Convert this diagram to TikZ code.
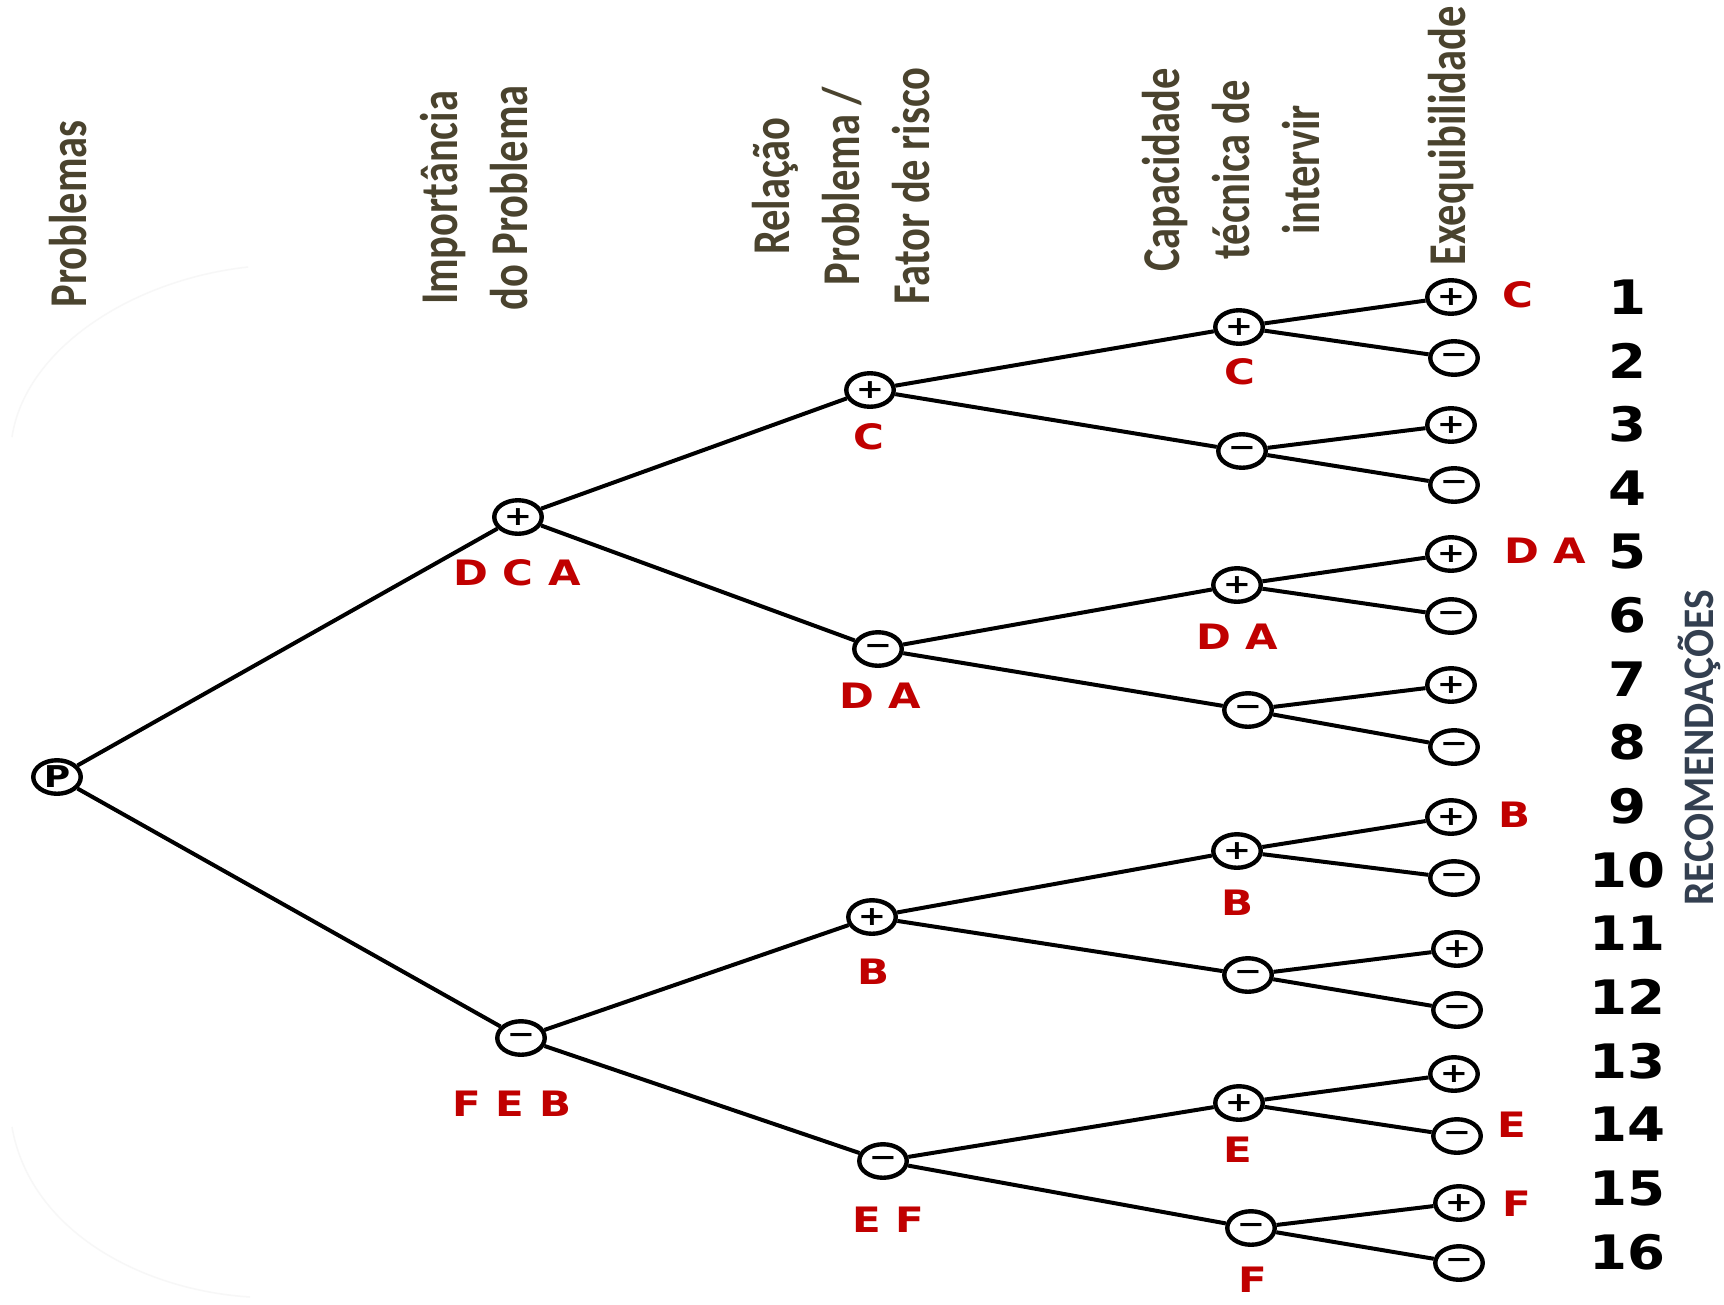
\documentclass[tikz,border=0pt]{standalone}
\usepackage{fontspec}
\setmainfont{Carlito}
\newfontfamily\djv{DejaVu Sans}
\usepackage{graphicx}
\usetikzlibrary{shapes.geometric}
\definecolor{hdrbrown}{RGB}{74,67,46}
\definecolor{lblred}{RGB}{192,0,0}
\definecolor{recblue}{RGB}{51,63,80}
\newcommand\pl{\scalebox{1.25}[1]{+}}
\newcommand\mn{\scalebox{1.25}[1]{\char"2212}}

\begin{document}
\begin{tikzpicture}[
    x=1pt, y=-1pt,
    nd/.style={ellipse, draw, line width=4.4pt, minimum width=47.5pt, minimum height=33.5pt, inner sep=0pt, font=\djv\bfseries\fontsize{27}{27}\selectfont},
    lnk/.style={line width=4pt},
    hdr/.style={rotate=90, yscale=1.25, align=center, text=hdrbrown, inner sep=0pt, font=\bfseries\fontsize{42.5}{56}\selectfont},
    lbl/.style={xscale=1.2, text=lblred, inner sep=0pt, font=\djv\bfseries\fontsize{35}{35}\selectfont},
    num/.style={xscale=1.15, inner sep=0pt, font=\djv\bfseries\fontsize{47.5}{47.5}\selectfont},
]
\fill[white] (0,0) rectangle (1724,1304);
\useasboundingbox (0,0) rectangle (1724,1304);

% faint background arc
\draw[black!3, line width=1.5pt] (248,267) .. controls (130,280) and (25,350) .. (12,437);
\draw[black!3, line width=1.5pt] (12,1127) .. controls (30,1230) and (140,1290) .. (250,1297);

% Column headers
\node[hdr] (hprob) at (68,214) {Problemas};
\node[hdr] (himp) at (474,198) {Importância\\do Problema};
\node[hdr] (hrel) at (841,186) {Relação\\Problema /\\Fator de risco};
\node[hdr] (hcap) at (1231,170) {Capacidade\\técnica de\\intervir};
\node[hdr] (hexe) at (1451,136) {Exequibilidade};
\node[rotate=90, yscale=1.05, text=recblue, inner sep=0pt, font=\bfseries\fontsize{41.5}{41.5}\selectfont] (hrec) at (1699,748) {RECOMENDAÇÕES};

% Tree nodes
\node[nd, font=\djv\bfseries\fontsize{30}{30}\selectfont] (p) at (57,777) {\scalebox{1.2}[1]{P}};
\node[nd] (i1) at (518,517) {\pl};
\node[nd] (i2) at (521,1038) {\mn};
\node[nd] (r1) at (870,390) {\pl};
\node[nd] (r2) at (878,649) {\mn};
\node[nd] (r3) at (872,917) {\pl};
\node[nd] (r4) at (883,1161) {\mn};
\node[nd] (c1) at (1239,327) {\pl};
\node[nd] (c2) at (1242,451) {\mn};
\node[nd] (c3) at (1237,585) {\pl};
\node[nd] (c4) at (1248,710) {\mn};
\node[nd] (c5) at (1237,851) {\pl};
\node[nd] (c6) at (1248,975) {\mn};
\node[nd] (c7) at (1239,1103) {\pl};
\node[nd] (c8) at (1251,1228) {\mn};

% Leaves and recommendation numbers
\foreach \x/\y [count=\k] in {1451/297, 1454/358, 1451/425, 1454/485, 1451/554, 1451/616, 1451/685, 1454/747, 1451/817, 1454/878, 1457/949, 1457/1010, 1454/1074, 1457/1136, 1459/1203, 1459/1263}{
  \ifodd\k\relax \def\sg{\pl}\else \def\sg{\mn}\fi
  \node[nd] (e\k) at (\x,\y) {\sg};
  \node[num] (n\k) at (1627,{297+63.65*(\k-1)}) {\k};
}

% Branches
\foreach \a/\b in {p/i1, p/i2, i1/r1, i1/r2, i2/r3, i2/r4, r1/c1, r1/c2, r2/c3, r2/c4, r3/c5, r3/c6, r4/c7, r4/c8}
  \draw[lnk] (\a) -- (\b);
\foreach \k in {1,...,8}{
  \pgfmathtruncatemacro\ea{2*\k-1}
  \pgfmathtruncatemacro\eb{2*\k}
  \draw[lnk] (c\k) -- (e\ea);
  \draw[lnk] (c\k) -- (e\eb);
}

% Red labels
\node[lbl] (li1) at (517,573) {D C A};
\node[lbl] (li2) at (512,1104) {F E B};
\node[lbl] (lr1) at (869,437) {C};
\node[lbl] (lr2) at (880,696) {D A};
\node[lbl] (lr3) at (873,972) {B};
\node[lbl] (lr4) at (888,1220) {E F};
\node[lbl] (lc1) at (1240,372) {C};
\node[lbl] (lc3) at (1237,637) {D A};
\node[lbl] (lc5) at (1237,903) {B};
\node[lbl] (lc7) at (1238,1150) {E};
\node[lbl] (lc8) at (1253,1280) {F};
\node[lbl] (le1) at (1518,295) {C};
\node[lbl] (le5) at (1545,551) {D A};
\node[lbl] (le9) at (1514,815) {B};
\node[lbl] (le14) at (1512,1125) {E};
\node[lbl] (le15) at (1517,1204) {F};
\end{tikzpicture}
\end{document}
